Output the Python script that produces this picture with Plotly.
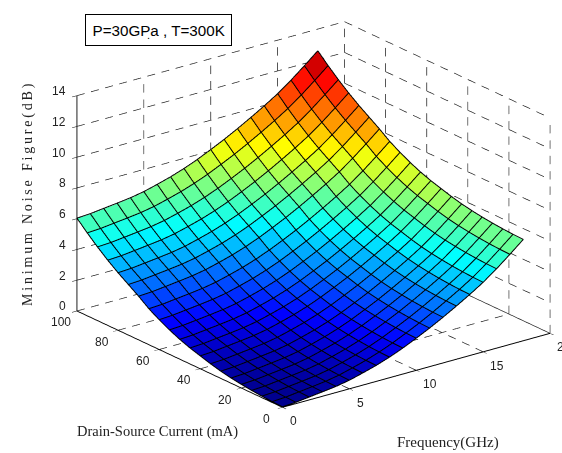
import math
import plotly.graph_objects as go

W, H = 562, 453

frequency_ghz = list(range(0, 19))
current_ma = list(range(0, 101, 5))
noise_figure_db = [
    [0.00,0.05,0.15,0.25,0.36,0.52,0.75,1.00,1.30,1.65,2.05,2.47,2.93,3.42,3.93,4.48,5.12,5.82,6.55],
    [0.02,0.07,0.17,0.27,0.38,0.54,0.77,1.02,1.32,1.67,2.07,2.49,2.95,3.44,3.95,4.50,5.14,5.84,6.57],
    [0.06,0.11,0.21,0.31,0.42,0.58,0.81,1.06,1.36,1.71,2.11,2.53,2.99,3.48,3.99,4.54,5.18,5.88,6.61],
    [0.12,0.17,0.27,0.37,0.48,0.64,0.87,1.12,1.42,1.77,2.17,2.59,3.05,3.54,4.05,4.60,5.24,5.94,6.67],
    [0.20,0.25,0.35,0.45,0.56,0.72,0.95,1.20,1.50,1.85,2.25,2.67,3.13,3.62,4.13,4.68,5.32,6.02,6.75],
    [0.30,0.35,0.45,0.55,0.66,0.82,1.05,1.30,1.60,1.95,2.35,2.77,3.23,3.72,4.23,4.78,5.42,6.12,6.85],
    [0.43,0.48,0.58,0.68,0.79,0.95,1.18,1.43,1.73,2.08,2.48,2.90,3.36,3.85,4.36,4.91,5.55,6.25,6.98],
    [0.60,0.65,0.75,0.85,0.96,1.12,1.35,1.60,1.90,2.25,2.65,3.07,3.53,4.02,4.53,5.08,5.72,6.42,7.15],
    [0.80,0.85,0.95,1.05,1.16,1.32,1.55,1.80,2.10,2.45,2.85,3.27,3.73,4.22,4.73,5.28,5.92,6.62,7.35],
    [1.00,1.05,1.15,1.25,1.36,1.52,1.75,2.00,2.30,2.65,3.05,3.47,3.93,4.42,4.93,5.48,6.12,6.82,7.55],
    [1.25,1.30,1.40,1.50,1.61,1.77,2.00,2.25,2.55,2.90,3.30,3.72,4.18,4.67,5.18,5.73,6.37,7.07,7.80],
    [1.55,1.60,1.70,1.80,1.91,2.07,2.30,2.55,2.85,3.20,3.60,4.02,4.48,4.97,5.48,6.03,6.67,7.37,8.10],
    [1.90,1.95,2.05,2.15,2.26,2.42,2.65,2.90,3.20,3.55,3.95,4.37,4.83,5.32,5.83,6.38,7.02,7.72,8.45],
    [2.30,2.35,2.45,2.55,2.66,2.82,3.05,3.30,3.60,3.95,4.35,4.77,5.23,5.72,6.23,6.78,7.42,8.12,8.85],
    [2.80,2.85,2.95,3.05,3.16,3.32,3.55,3.80,4.10,4.45,4.85,5.27,5.73,6.22,6.73,7.28,7.92,8.62,9.35],
    [3.25,3.30,3.40,3.50,3.61,3.77,4.00,4.25,4.55,4.90,5.30,5.72,6.18,6.67,7.18,7.73,8.37,9.07,9.80],
    [3.70,3.75,3.85,3.95,4.06,4.22,4.45,4.70,5.00,5.35,5.75,6.17,6.63,7.12,7.63,8.18,8.82,9.52,10.25],
    [4.20,4.25,4.35,4.45,4.56,4.72,4.95,5.20,5.50,5.85,6.25,6.67,7.13,7.62,8.13,8.68,9.32,10.02,10.75],
    [4.75,4.80,4.90,5.00,5.11,5.27,5.50,5.75,6.05,6.40,6.80,7.22,7.68,8.17,8.68,9.23,9.87,10.57,11.30],
    [5.35,5.40,5.50,5.60,5.71,5.87,6.10,6.35,6.65,7.00,7.40,7.82,8.28,8.77,9.28,9.83,10.47,11.17,11.90],
    [6.00,6.05,6.15,6.25,6.36,6.52,6.75,7.00,7.30,7.65,8.05,8.47,8.93,9.42,9.93,10.48,11.12,11.82,12.55],
]
x_ticks = [0, 5, 10, 15, 20]
y_ticks = [0, 20, 40, 60, 80, 100]
z_ticks = [0, 2, 4, 6, 8, 10, 12, 14]
x_max, y_max, z_max = 20, 100, 14

box_text = "P=30GPa , T=300K"
x_title = "Frequency(GHz)"
y_title = "Drain-Source Current (mA)"
z_title = "\u2009".join("Minimum Noise Figure(dB)")

jet = [[0, "rgb(0,0,143)"], [0.125, "rgb(0,0,255)"], [0.375, "rgb(0,255,255)"],
       [0.625, "rgb(255,255,0)"], [0.875, "rgb(255,0,0)"], [1, "rgb(128,0,0)"]]

nf, ni = len(frequency_ghz), len(current_ma)
vx, vy, vz, ti, tj, tk, tint = [], [], [], [], [], [], []
for r in range(ni):
    for c in range(nf):
        vx.append(frequency_ghz[c]); vy.append(current_ma[r]); vz.append(noise_figure_db[r][c])
for r in range(ni - 1):
    for c in range(nf - 1):
        a = r * nf + c
        b, d, e = a + 1, a + nf, a + nf + 1
        ti += [a, a]; tj += [b, e]; tk += [e, d]; tint += [vz[a], vz[a]]

fig = go.Figure()
fig.add_trace(go.Mesh3d(x=vx, y=vy, z=vz, i=ti, j=tj, k=tk, intensity=tint, intensitymode="cell",
                        colorscale=jet, cmin=0, cmax=12.2, showscale=False, flatshading=True,
                        lighting=dict(ambient=1, diffuse=0, specular=0, roughness=1, fresnel=0),
                        hoverinfo="skip"))

# wire frame
LIFT = 0.04
wx, wy, wz = [], [], []
for r in range(ni):
    for c in range(nf):
        wx.append(frequency_ghz[c]); wy.append(current_ma[r]); wz.append(noise_figure_db[r][c] + LIFT)
    wx.append(None); wy.append(None); wz.append(None)
for c in range(nf):
    for r in range(ni):
        wx.append(frequency_ghz[c]); wy.append(current_ma[r]); wz.append(noise_figure_db[r][c] + LIFT)
    wx.append(None); wy.append(None); wz.append(None)
fig.add_trace(go.Scatter3d(x=wx, y=wy, z=wz, mode="lines", line=dict(color="black", width=2),
                           hoverinfo="skip", showlegend=False))

# dashed grid on floor and back walls, from the tick arrays
segs = []
for f in x_ticks[1:]:
    segs.append(((f, 0, 0), (f, y_max, 0), 15))
    segs.append(((f, y_max, 0), (f, y_max, z_max), 14))
for c in y_ticks[:-1]:
    segs.append(((0, c, 0), (x_max, c, 0), 19))
    segs.append(((x_max, c, 0), (x_max, c, z_max), 14))
segs.append(((0, y_max, 0), (x_max, y_max, 0), 19))
for t in z_ticks:
    segs.append(((0, y_max, t), (x_max, y_max, t), 19))
    segs.append(((x_max, y_max, t), (x_max, 0, t), 15))
gx, gy, gz = [], [], []
for p, q, n in segs:
    for k in range(n):
        for u in (k / n, (k + 0.55) / n):
            gx.append(p[0] + (q[0] - p[0]) * u)
            gy.append(p[1] + (q[1] - p[1]) * u)
            gz.append(p[2] + (q[2] - p[2]) * u)
        gx.append(None); gy.append(None); gz.append(None)
fig.add_trace(go.Scatter3d(x=gx, y=gy, z=gz, mode="lines", line=dict(color="rgb(30,30,30)", width=1.4),
                           hoverinfo="skip", showlegend=False))

axis_common = dict(showgrid=False, showbackground=False, zeroline=False, showline=True,
                   linecolor="black", linewidth=2, ticks="outside", ticklen=6, tickcolor="black",
                   tickwidth=1, title=dict(text=""), showspikes=False, tickmode="array",
                   showticklabels=False)

tick_font = dict(family="Liberation Sans", size=12, color="#222")
scene_notes = []
for v in x_ticks:
    scene_notes.append(dict(x=v, y=0, z=0, text=str(v), showarrow=False, xanchor="center", yanchor="middle",
                            xshift=11 if v < 10 else 14, yshift=-14, font=tick_font))
for v in y_ticks:
    scene_notes.append(dict(x=0, y=v, z=0, text=str(v), showarrow=False, xanchor="center", yanchor="middle",
                            xshift=-16, yshift=-11.5, font=tick_font))
for v in z_ticks:
    scene_notes.append(dict(x=0, y=y_max, z=v, text=str(v), showarrow=False, xanchor="right", yanchor="middle",
                            xshift=-9, yshift=4.5, font=tick_font))

theta = math.radians(21.1)
ax, ay = 0.609, 0.793
R = 1.75
SCALE = 1.573
eye = dict(x=-ax * math.cos(theta) * R, y=-ay * math.cos(theta) * R, z=math.sin(theta) * R)

def px(x): return x / W
def py(y): return 1 - y / H

def note(text, x, y, **kw):
    return dict(text=text, x=px(x), y=py(y), xref="paper", yref="paper", showarrow=False,
                xanchor="center", yanchor="middle", **kw)

fig.update_layout(
    width=W, height=H, margin=dict(l=0, r=0, t=0, b=0), paper_bgcolor="white", showlegend=False,
    scene=dict(
        domain=dict(x=[65 / W, 1], y=[24 / H, 1]),
        xaxis=dict(axis_common, range=[0, x_max], tickvals=x_ticks),
        yaxis=dict(axis_common, range=[0, y_max], tickvals=y_ticks),
        zaxis=dict(axis_common, range=[0, z_max], tickvals=z_ticks),
        aspectmode="manual", aspectratio=dict(x=SCALE, y=SCALE, z=0.684 * SCALE),
        bgcolor="white",
        camera=dict(eye=eye, center=dict(x=0, y=0, z=0), up=dict(x=0, y=0, z=1),
                    projection=dict(type="orthographic")),
        annotations=scene_notes,
    ),
    annotations=[
        note(box_text, 158.5, 29.5, font=dict(family="Liberation Sans", size=15.2, color="black"),
             bordercolor="black", borderwidth=1, borderpad=6.5, bgcolor="white"),
        note(".", 148, 35, font=dict(family="Liberation Sans", size=11, color="black")),
        note(y_title, 157, 431, font=dict(family="Liberation Serif", size=14.5, color="#222")),
        note(x_title, 448, 442, font=dict(family="Liberation Serif", size=15, color="#222")),
        note(z_title, 28, 195, textangle=-90, font=dict(family="Liberation Serif", size=14, color="#222")),
    ],
)
fig.write_html("out.html", config=dict(displayModeBar=False), post_script="document.body.style.margin='0';")
